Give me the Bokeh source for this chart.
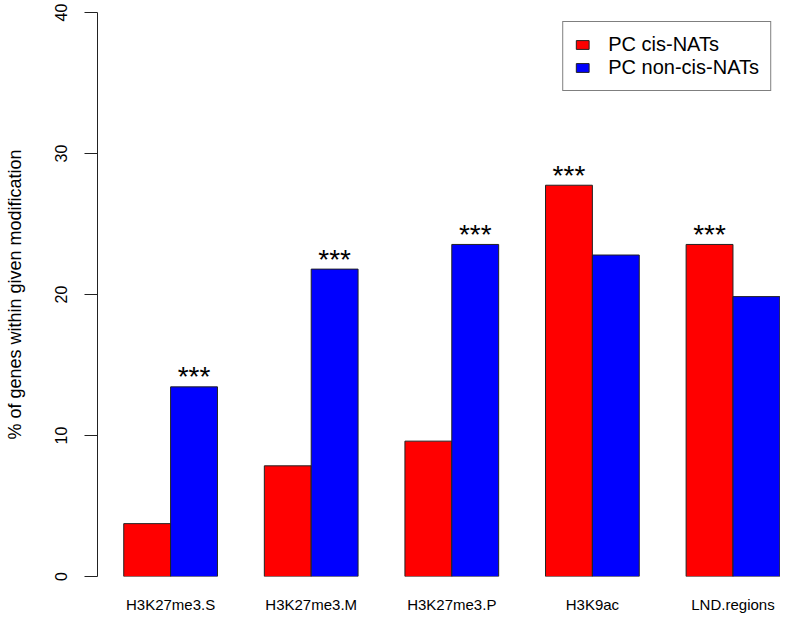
import numpy as np
from bokeh.plotting import figure
from bokeh.models import Range1d, FixedTicker, ColumnDataSource
from bokeh.core.properties import value
from bokeh.embed import file_html
from bokeh.resources import INLINE

# ---- data ----
categories = ["H3K27me3.S", "H3K27me3.M", "H3K27me3.P", "H3K9ac", "LND.regions"]
pc_cis_nats = [3.75, 7.85, 9.6, 27.75, 23.55]
pc_non_cis_nats = [13.45, 21.8, 23.55, 22.8, 19.85]
series_names = ["PC cis-NATs", "PC non-cis-NATs"]
series_colors = ["#FF0000", "#0000FF"]
star_series = [1, 1, 1, 0, 0]          # which series carries the marker
star_labels = ["***", "***", "***", "***", "***"]
y_ticks = [0, 10, 20, 30, 40]
y_title = "% of genes within given modification"

FONT = "Liberation Sans"

idx = np.arange(len(categories))
bar_w = 1.0 / 3.0
centers = idx + 0.5
x_pos = [centers - bar_w / 2, centers + bar_w / 2]
vals = [pc_cis_nats, pc_non_cis_nats]

p = figure(width=780, height=615, output_backend="svg", toolbar_location=None,
           title=None,
           x_range=Range1d(-0.02, 4.838), y_range=Range1d(0, 40),
           min_border_left=97, min_border_right=0, min_border_top=12,
           min_border_bottom=37)

for k in range(2):
    src = ColumnDataSource(dict(x=x_pos[k], top=vals[k]))
    p.vbar(x="x", top="top", bottom=0, width=bar_w, source=src,
           fill_color=series_colors[k], line_color="#222222", line_width=1,
           legend_label=series_names[k])

star_x = [x_pos[s][i] for i, s in enumerate(star_series)]
star_y = [vals[s][i] for i, s in enumerate(star_series)]
p.text(x=star_x, y=star_y, text=star_labels, text_align="center",
       text_baseline="alphabetic", text_font=value(FONT),
       text_font_size="28px", text_color="black", y_offset=-10)

# axes
p.xgrid.visible = False
p.ygrid.visible = False
p.outline_line_color = None
p.background_fill_color = "white"
p.border_fill_color = "white"

ya = p.yaxis[0]
ya.ticker = FixedTicker(ticks=y_ticks)
ya.major_label_orientation = "vertical"
ya.major_tick_out = 13
ya.major_tick_in = 0
ya.minor_tick_line_color = None
ya.axis_line_color = "#222222"
ya.major_tick_line_color = "#222222"
ya.major_label_text_font = FONT
ya.major_label_text_font_size = "16px"
ya.major_label_text_color = "black"
ya.major_label_standoff = 18
ya.axis_label = y_title
ya.axis_label_text_font = FONT
ya.axis_label_text_font_size = "18px"
ya.axis_label_text_font_style = "normal"
ya.axis_label_text_color = "black"
ya.axis_label_standoff = 27

xa = p.xaxis[0]
xa.ticker = FixedTicker(ticks=list(centers))
xa.major_label_overrides = {float(c): cat for c, cat in zip(centers, categories)}
xa.axis_line_color = None
xa.major_tick_line_color = None
xa.major_tick_out = 0
xa.major_tick_in = 0
xa.minor_tick_line_color = None
xa.major_label_text_font = FONT
xa.major_label_text_font_size = "15px"
xa.major_label_text_color = "black"
xa.major_label_standoff = 19

lg = p.legend[0]
lg.location = "top_right"
lg.margin = 9
lg.padding = 11
lg.spacing = 0
lg.glyph_width = 16
lg.glyph_height = 11
lg.label_height = 20
lg.label_standoff = 18
lg.label_text_font = FONT
lg.label_text_font_size = "20px"
lg.label_text_color = "black"
lg.border_line_color = "black"
lg.border_line_width = 1
lg.background_fill_alpha = 1.0

open("out.html", "w").write(file_html(p, INLINE))
